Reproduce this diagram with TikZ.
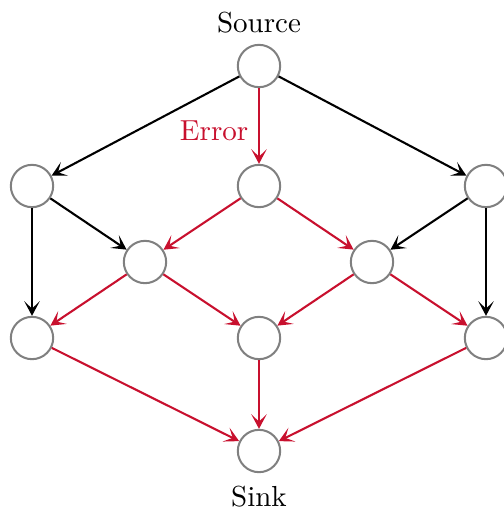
\documentclass[tikz,border=0pt]{standalone}
\usetikzlibrary{arrows.meta}
\definecolor{errred}{RGB}{200,16,46}
\begin{document}
\begin{tikzpicture}[x=0.345pt,y=-0.345pt,
  vtx/.style={circle,draw=gray,line width=0.7pt,minimum size=14.6pt,inner sep=0pt},
  edge/.style={line width=0.72pt,-{Stealth[length=5pt,width=5.3pt,inset=2.5pt]}},
  erredge/.style={edge,errred}]
\useasboundingbox (0,0) rectangle (504,508);
\node[vtx,label={above:Source}] (s) at (259,66) {};
\node[vtx] (a) at (32,186) {};
\node[vtx] (b) at (259,186) {};
\node[vtx] (c) at (486,186) {};
\node[vtx] (d) at (145,262) {};
\node[vtx] (e) at (372,262) {};
\node[vtx] (f) at (32,338) {};
\node[vtx] (g) at (259,338) {};
\node[vtx] (h) at (486,338) {};
\node[vtx,label={[label distance=1pt]below:Sink}] (t) at (259,451) {};
\draw[edge] (s) -- (a);
\draw[erredge] (s) -- node[pos=0.56,left,text=errred] (err) {Error} (b);
\draw[edge] (s) -- (c);
\draw[edge] (a) -- (f);
\draw[edge] (a) -- (d);
\draw[erredge] (b) -- (d);
\draw[erredge] (b) -- (e);
\draw[edge] (c) -- (e);
\draw[edge] (c) -- (h);
\draw[erredge] (d) -- (f);
\draw[erredge] (d) -- (g);
\draw[erredge] (e) -- (g);
\draw[erredge] (e) -- (h);
\draw[erredge] (f) -- (t);
\draw[erredge] (g) -- (t);
\draw[erredge] (h) -- (t);
\end{tikzpicture}
\end{document}
